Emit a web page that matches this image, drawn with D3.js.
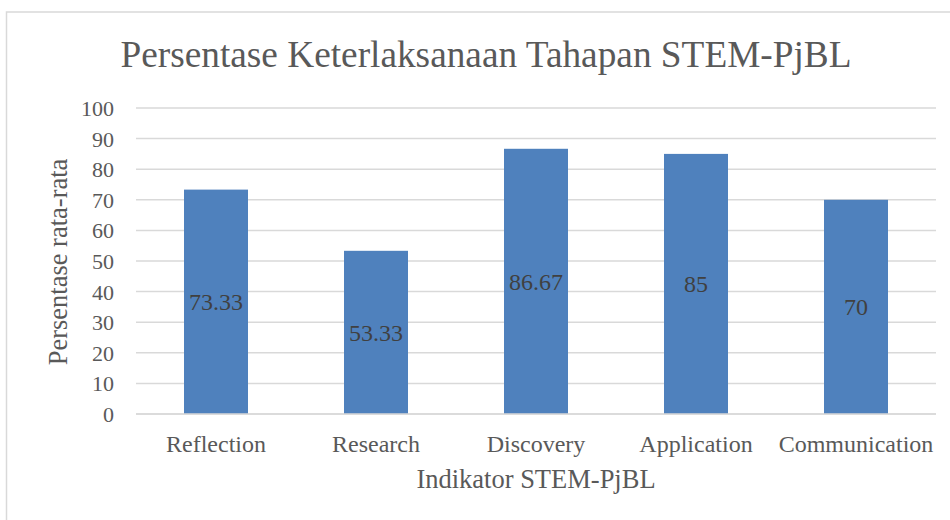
<!DOCTYPE html>
<html>
<head>
<meta charset="utf-8">
<script src="https://cdn.jsdelivr.net/npm/d3@7"></script>
<style>
  body { margin: 0; background: #fff; }
  text { font-family: "Liberation Serif", "Times New Roman", serif; fill: #595959; }
</style>
</head>
<body>
<script>
// chart data
var categories = ["Reflection", "Research", "Discovery", "Application", "Communication"];
var values = [73.33, 53.33, 86.67, 85, 70];
var yTicks = [0, 10, 20, 30, 40, 50, 60, 70, 80, 90, 100];

var width = 950, height = 520;
var plot = {left: 136, right: 936, top: 108, bottom: 414};

var svg = d3.select("body").append("svg")
    .attr("width", width)
    .attr("height", height);

// outer chart border (runs off the right/bottom edge)
svg.append("rect")
    .attr("x", 6.5).attr("y", 12)
    .attr("width", 1000).attr("height", 600)
    .attr("fill", "#fff")
    .attr("stroke", "#d9d9d9")
    .attr("stroke-width", 1.5);

var x = d3.scaleBand()
    .domain(categories)
    .range([plot.left, plot.right])
    .paddingInner(0.6)
    .paddingOuter(0.3);

var y = d3.scaleLinear()
    .domain([0, 100])
    .range([plot.bottom, plot.top]);

// gridlines
svg.append("g").selectAll("line")
    .data(yTicks)
    .enter().append("line")
    .attr("x1", plot.left).attr("x2", plot.right)
    .attr("y1", function (d) { return y(d); })
    .attr("y2", function (d) { return y(d); })
    .attr("stroke", "#d9d9d9")
    .attr("stroke-width", 1.5);

// y axis labels
var yAxis = d3.axisLeft(y).tickValues(yTicks).tickSize(0).tickPadding(0);
var gy = svg.append("g")
    .attr("transform", "translate(114,0)")
    .call(yAxis);
gy.select(".domain").remove();
gy.selectAll("text")
    .attr("font-size", 22)
    .attr("font-family", "Liberation Serif")
    .attr("fill", "#595959")
    .attr("dy", "0.34em");

// bars
var data = categories.map(function (c, i) { return {name: c, value: values[i]}; });

svg.append("g").selectAll("rect")
    .data(data)
    .enter().append("rect")
    .attr("x", function (d) { return x(d.name); })
    .attr("y", function (d) { return y(d.value); })
    .attr("width", x.bandwidth())
    .attr("height", function (d) { return y(0) - y(d.value); })
    .attr("fill", "#4f81bd");

// data labels, centred in each bar
svg.append("g").selectAll("text")
    .data(data)
    .enter().append("text")
    .attr("x", function (d) { return x(d.name) + x.bandwidth() / 2; })
    .attr("y", function (d) { return (y(d.value) + y(0)) / 2; })
    .attr("dy", "0.34em")
    .attr("text-anchor", "middle")
    .attr("font-size", 24)
    .style("fill", "#404040")
    .text(function (d) { return d3.format("~f")(d.value); });

// x axis line
svg.append("line")
    .attr("x1", plot.left).attr("x2", plot.right)
    .attr("y1", y(0)).attr("y2", y(0))
    .attr("stroke", "#d9d9d9")
    .attr("stroke-width", 1.5);

// x axis labels
var xAxis = d3.axisBottom(x).tickSize(0).tickPadding(0);
var gx = svg.append("g")
    .attr("transform", "translate(0,452)")
    .call(xAxis);
gx.select(".domain").remove();
gx.selectAll("text")
    .attr("font-size", 24)
    .attr("font-family", "Liberation Serif")
    .attr("fill", "#595959")
    .attr("dy", 0)
    .attr("y", 0);

// titles
svg.append("text")
    .attr("x", 486).attr("y", 67)
    .attr("text-anchor", "middle")
    .attr("font-size", 37.3)
    .text("Persentase Keterlaksanaan Tahapan STEM-PjBL");

svg.append("text")
    .attr("x", 536).attr("y", 488)
    .attr("text-anchor", "middle")
    .attr("font-size", 26.5)
    .text("Indikator STEM-PjBL");

svg.append("text")
    .attr("transform", "translate(67,262) rotate(-90)")
    .attr("text-anchor", "middle")
    .attr("font-size", 26.5)
    .text("Persentase rata-rata");
</script>
</body>
</html>
